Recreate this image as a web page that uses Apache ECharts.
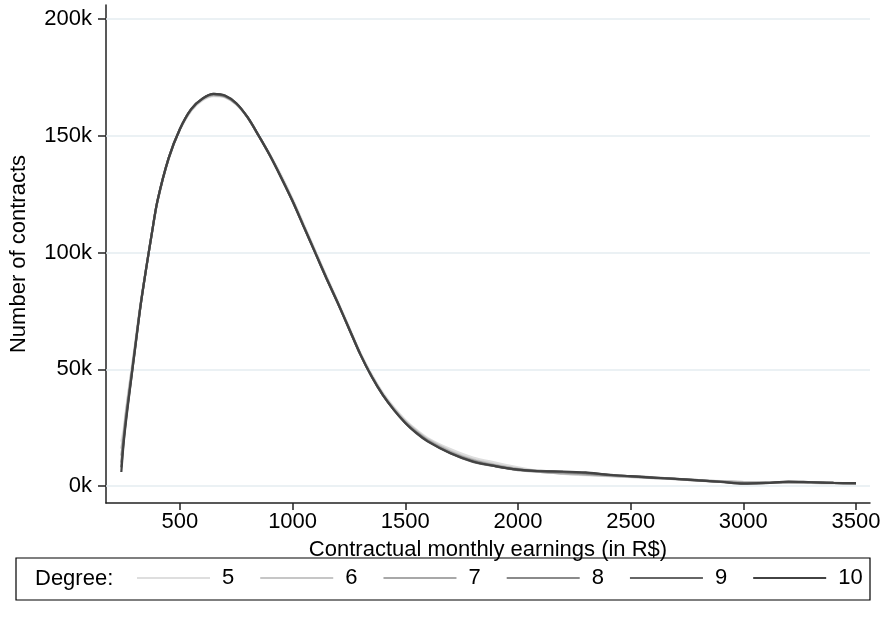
<!DOCTYPE html>
<html>
<head>
<meta charset="utf-8">
<script src="https://cdn.jsdelivr.net/npm/echarts@6/dist/echarts.min.js"></script>
<style>
html,body{margin:0;padding:0;background:#fff;}
#chart{width:895px;height:618px;}
</style>
</head>
<body>
<div id="chart"></div>
<script>
// Earnings (R$) at which the fitted curves are read
const earnings = [240,250,260,275,300,325,350,375,400,450,500,550,600,650,700,750,800,850,900,950,1000,1050,1100,1150,1200,1250,1300,1350,1400,1450,1500,1550,1600,1700,1800,1900,2000,2100,2200,2300,2400,2500,2600,2700,2800,2900,3000,3100,3200,3300,3400,3500];
// Number of contracts (thousands) for each polynomial degree
const deg5  = [19,24,32,43,60,78,93.5,108,121.5,140,152.5,160.8,165.3,167,166.5,163.5,158,150.2,142,133,123,112,101,90,79.2,68.2,57.2,48,40,33.6,28.3,24,20.5,15.8,12.2,10,8,6.3,5.2,4.6,4.2,3.8,3.4,3,2.5,2.1,1.8,1.6,1.4,1.3,1.2,1.2];
const deg6  = [16,22,31,42,59.5,77.5,93,107.8,121.8,140.3,152.8,161,165.6,167.3,166.7,163.6,157.9,150,141.7,132.4,122.4,111.5,100.5,89.5,78.8,67.8,56.8,47.5,39.5,33.2,27.8,23.6,20,15,11.4,9.2,7.4,6,5.3,4.8,4.3,3.9,3.4,2.9,2.4,2,1.7,1.5,1.4,1.3,1.2,1.2];
const deg7  = [13,21,30,41,59,77.5,93,108,122,140.5,153,161.3,165.8,167.6,166.9,163.8,158,150,141.6,132.2,122.2,111.2,100.3,89.2,78.6,67.6,56.6,47.2,39.2,32.8,27.4,23.2,19.6,14.6,11,8.8,7.2,6,5.5,5,4.5,4,3.5,2.9,2.4,2,1.6,1.4,1.5,1.4,1.3,1.2];
const deg8  = [10,20,29,40,58.5,77,93,108,122,140.5,153,161.5,166,167.8,167,163.8,158,150,141.5,132,122,111,100.2,89,78.5,67.5,56.5,47,39,32.7,27.2,22.8,19.3,14.2,10.8,8.6,6.8,6.2,5.9,5.4,4.6,4.2,3.7,3,2.3,1.9,1.2,1.3,1.7,1.5,1.3,1.2];
const deg9  = [8,19,28,39.5,58,77,93,108,122,140.5,153,161.5,166,168,167.2,164,158,150,141.5,132,122,111,100,89,78.5,67.5,56.5,47,39,32.5,27,22.8,19.2,14,10.3,8.4,7,6.5,6,5.6,4.9,4.1,3.5,3.1,2.5,1.7,1.1,1.2,1.8,1.7,1.3,1.1];
const deg10 = [6,18,27,39,58,77,93,108,122,140.5,153,161.5,166,168,167.3,164,158,150,141.5,132,122,111,100,89,78.5,67.5,56.5,47,39,32.5,27,22.5,19,14,10.5,8.5,7,6.3,6.2,5.8,4.8,4.2,3.6,3,2.4,1.8,1,1.3,1.9,1.6,1.3,1.2];
const seriesNames = ['5','6','7','8','9','10'];
const xTicks = [500,1000,1500,2000,2500,3000,3500];
const yTicks = [0,50,100,150,200];

const colors = ['#dedede','#c6c6c6','#a8a8a8','#8a8a8a','#666666','#424242'];
const allSeries = [deg5,deg6,deg7,deg8,deg9,deg10];
const FONT = '"Liberation Sans", Arial, sans-serif';
const FS = 22;

const chart = echarts.init(document.getElementById('chart'), null, {renderer:'canvas'});

const series = [{
  name: 'grid', type: 'line', data: [], z: 1, silent: true,
  markLine: {
    silent: true, symbol: ['none','none'], label: {show:false},
    lineStyle: {color:'#e4edf0', width:1.5, type:'solid'},
    animation: false,
    data: yTicks.map(v => ({yAxis: v}))
  }
}];
allSeries.forEach((vals, i) => {
  series.push({
    name: seriesNames[i], type: 'line', z: 3 + i,
    data: earnings.map((e, k) => [e, vals[k]]),
    showSymbol: false, symbol: 'none',
    smooth: 0.3,
    lineStyle: {color: colors[i], width: 2.2},
    itemStyle: {color: colors[i]}
  });
});

chart.setOption({
  animation: false,
  backgroundColor: '#ffffff',
  grid: {left: 104, right: 25, top: 5, bottom: 115, containLabel: false},
  xAxis: {
    type: 'value', min: 172, max: 3562,
    name: 'Contractual monthly earnings (in R$)',
    nameLocation: 'middle', nameGap: 36,
    nameTextStyle: {fontFamily: FONT, fontSize: FS, color: '#000'},
    axisLine: {show: true, onZero: false, lineStyle: {color: '#222', width: 1.5}},
    axisTick: {show: true, length: 7, inside: false, customValues: xTicks, lineStyle: {color:'#222', width:1.5}},
    axisLabel: {customValues: xTicks, formatter: v => String(v), fontFamily: FONT, fontSize: FS, color: '#000', margin: 8},
    splitLine: {show: false}
  },
  yAxis: {
    type: 'value', min: -7.3, max: 206.1,
    name: 'Number of contracts',
    nameLocation: 'middle', nameGap: 76, nameRotate: 90,
    nameTextStyle: {fontFamily: FONT, fontSize: FS, color: '#000'},
    axisLine: {show: true, onZero: false, lineStyle: {color: '#222', width: 1.5}},
    axisTick: {show: true, length: 8, customValues: yTicks, lineStyle: {color:'#222', width:1.5}},
    axisLabel: {customValues: yTicks, formatter: v => String(v) + 'k', fontFamily: FONT, fontSize: FS, color: '#000', margin: 14},
    splitLine: {show: false}
  },
  legend: {
    data: seriesNames, left: 137, top: 567, padding: 0,
    itemWidth: 73, itemHeight: 2, itemGap: 26,
    icon: 'rect',
    textStyle: {fontFamily: FONT, fontSize: FS, color: '#000', padding: [0,0,0,7]},
    selectedMode: false
  },
  graphic: [
    {type: 'rect', shape: {x: 16, y: 558, width: 854, height: 42}, style: {fill: 'none', stroke: '#000', lineWidth: 1.2}, silent: true},
    {type: 'text', x: 35, y: 579, style: {text: 'Degree:', font: FS + 'px "Liberation Sans", Arial, sans-serif', fill: '#000', verticalAlign: 'middle'}, silent: true}
  ],
  series: series
});
</script>
</body>
</html>
